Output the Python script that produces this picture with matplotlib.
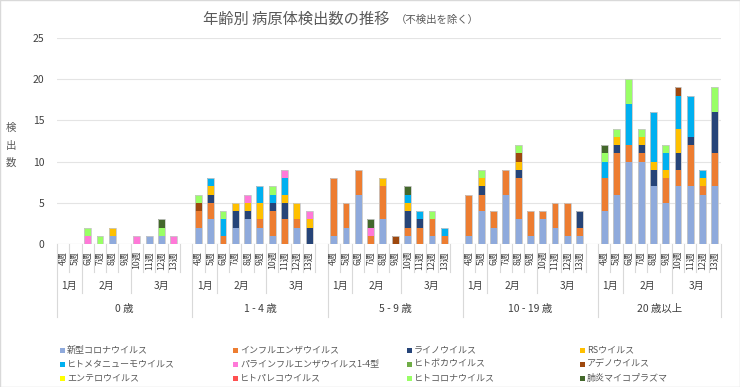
import matplotlib
matplotlib.use("Agg")
import matplotlib.pyplot as plt
import numpy as np
from matplotlib import transforms
from matplotlib.patches import Rectangle

plt.rcParams['font.family'] = ['Noto Sans CJK JP', 'DejaVu Sans']

# --- data -------------------------------------------------------------
ages = ['0 歳', '1 - 4 歳', '5 - 9 歳', '10 - 19 歳', '20 歳以上']
weeks = [4, 5, 6, 7, 8, 9, 10, 11, 12, 13]
week_month = ['1月', '1月', '2月', '2月', '2月', '2月', '3月', '3月', '3月', '3月']

# each list: 0歳 | 1-4歳 | 5-9歳 | 10-19歳 | 20歳以上, weeks 4..13
covid = [0,0,0,0,1,0,0,1,1,0, 2,3,0,2,3,2,1,0,2,0, 1,2,6,0,3,0,1,0,1,0,
         1,4,2,6,3,1,3,2,1,1, 4,6,10,10,7,5,7,7,6,7]
flu = [0,0,0,0,0,0,0,0,0,0, 2,2,1,0,0,1,3,3,1,0, 7,3,3,1,4,0,1,2,2,1,
       5,2,2,3,5,3,1,3,4,1, 4,5,2,1,0,3,2,5,1,4]
rhino = [0,0,0,0,0,0,0,0,0,0, 0,1,0,2,1,0,1,2,0,2, 0,0,0,0,0,0,2,1,0,0,
         0,1,0,0,1,0,0,0,0,2, 0,1,0,1,2,0,2,1,0,5]
rsv = [0,0,0,0,1,0,0,0,0,0, 0,1,0,1,1,2,0,1,2,1, 0,0,0,0,1,0,1,0,0,0,
       0,1,0,0,1,0,0,0,0,0, 0,1,0,1,1,1,3,0,1,0]
hmpv = [0,0,0,0,0,0,0,0,0,0, 0,1,2,0,0,2,1,2,0,0, 0,0,0,0,0,0,1,1,0,1,
        0,0,0,0,0,0,0,0,0,0, 2,0,5,0,6,2,4,5,1,0]
para = [0,0,1,0,0,0,1,0,0,1, 0,0,0,0,1,0,0,1,0,1, 0,0,0,1,0,0,0,0,0,0,
        0,0,0,0,0,0,0,0,0,0, 0,0,0,0,0,0,0,0,0,0]
boca = [0] * 50
adeno = [0,0,0,0,0,0,0,0,0,0, 1,0,0,0,0,0,0,0,0,0, 0,0,0,0,0,1,0,0,0,0,
         0,0,0,0,1,0,0,0,0,0, 0,0,0,0,0,0,1,0,0,0]
entero = [0] * 50
pareco = [0] * 50
hcov = [0,0,1,1,0,0,0,0,1,0, 1,0,1,0,0,0,1,0,0,0, 0,0,0,0,0,0,0,0,1,0,
        0,1,0,0,1,0,0,0,0,0, 1,1,3,1,0,1,0,0,0,3]
myco = [0,0,0,0,0,0,0,0,1,0, 0,0,0,0,0,0,0,0,0,0, 0,0,0,1,0,0,1,0,0,0,
        0,0,0,0,0,0,0,0,0,0, 1,0,0,0,0,0,0,0,0,0]

names = ['新型コロナウイルス', 'インフルエンザウイルス', 'ライノウイルス', 'RSウイルス',
         'ヒトメタニューモウイルス', 'パラインフルエンザウイルス1-4型', 'ヒトボカウイルス', 'アデノウイルス',
         'エンテロウイルス', 'ヒトパレコウイルス', 'ヒトコロナウイルス', '肺炎マイコプラズマ']
values = [covid, flu, rhino, rsv, hmpv, para, boca, adeno, entero, pareco, hcov, myco]
colors = ['#8faadc', '#ed7d31', '#264478', '#ffc000', '#00b0f0', '#ff79d8',
          '#70ad47', '#9e480e', '#ffff00', '#ff5050', '#99ff66', '#43682b']

# --- figure -----------------------------------------------------------
W, H = 740, 387
fig = plt.figure(figsize=(W / 100, H / 100), dpi=100)
fig.patch.set_facecolor('white')
fig.add_artist(Rectangle((0, 0), 1, 1, transform=fig.transFigure, fill=False,
                         edgecolor='#d9d9d9', lw=1))

def fy(px):
    return 1 - px / H

ax = fig.add_axes([57 / W, fy(244), (721 - 57) / W, (244 - 38) / H])

n_groups = len(ages)
slot = 11
x = np.array([g * slot + i for g in range(n_groups) for i in range(len(weeks))])
width = 0.56

bottom = np.zeros(len(x))
for name, vals, col in zip(names, values, colors):
    v = np.array(vals)
    ax.bar(x, v, width, bottom=bottom, color=col, lw=0, zorder=3)
    bottom += v
mask = bottom > 0
ax.bar(x[mask], bottom[mask], width, fill=False, edgecolor='#c8c8c8', lw=0.6, zorder=4)

ax.set_xlim(-0.5, (n_groups - 1) * slot + len(weeks) - 0.5)
ax.set_ylim(0, 25)
ax.set_yticks(np.arange(0, 26, 5))
ax.tick_params(axis='y', length=0, pad=9, labelsize=7.5, labelcolor='#404040')
ax.set_xticks([])
ax.grid(axis='y', color='#e4e4e4', lw=0.8, zorder=0)
for s in ax.spines.values():
    s.set_visible(False)
ax.axhline(0, color='#d9d9d9', lw=0.8, zorder=2)

# --- multi level category axis ----------------------------------------
tr = transforms.blended_transform_factory(ax.transData, fig.transFigure)
lc = '#d9d9d9'
xmax = (n_groups - 1) * slot + len(weeks) - 0.5
for b in range(0, int(xmax + 1.5)):
    xb = b - 0.5
    r = b % slot
    if b == 0 or xb == xmax or r == 0:
        end = 317
    elif r in (2, 6):
        end = 293
    else:
        end = 272
    ax.plot([xb, xb], [fy(244), fy(end)], transform=tr, color=lc, lw=0.8, clip_on=False)

for g, age in enumerate(ages):
    for i, w in enumerate(weeks):
        ax.text(g * slot + i, fy(251), f'{w}週', transform=tr, rotation=90,
                ha='center', va='top', fontsize=6.3, color='#404040')
    last = g * slot + (len(weeks) if g < n_groups - 1 else len(weeks) - 1)
    for m in ['1月', '2月', '3月']:
        idx = [g * slot + i for i, mm in enumerate(week_month) if mm == m]
        lo, hi = idx[0], idx[-1]
        if m == '3月':
            hi = last
        ax.text((lo + hi) / 2, fy(286), m, transform=tr, ha='center', va='center',
                fontsize=7.3, color='#404040')
    ax.text((g * slot + last) / 2, fy(309), age, transform=tr, ha='center', va='center',
            fontsize=7.5, color='#404040')

# --- titles -----------------------------------------------------------
fig.text(203 / W, fy(19), '年齢別 病原体検出数の推移', fontsize=11, color='#595959',
         ha='left', va='center')
fig.text(396 / W, fy(20), '（不検出を除く）', fontsize=7.5, color='#595959',
         ha='left', va='center')
for k, ch in enumerate('検出数'):
    fig.text(11 / W, fy(128 + 17.5 * k), ch, fontsize=7.5, color='#595959',
             ha='center', va='center')

# --- legend -----------------------------------------------------------
col_x = [60, 233, 407, 580]
row_y = [350, 364, 378]
for k, (name, col) in enumerate(zip(names, colors)):
    cx, cy = col_x[k % 4], row_y[k // 4]
    fig.add_artist(Rectangle((cx / W, fy(cy + 3)), 5 / W, 5 / H,
                             transform=fig.transFigure, facecolor=col, lw=0))
    fig.text((cx + 7) / W, fy(cy), name, fontsize=6.5, color='#595959',
             ha='left', va='center')

fig.savefig('out.png', dpi=100)
